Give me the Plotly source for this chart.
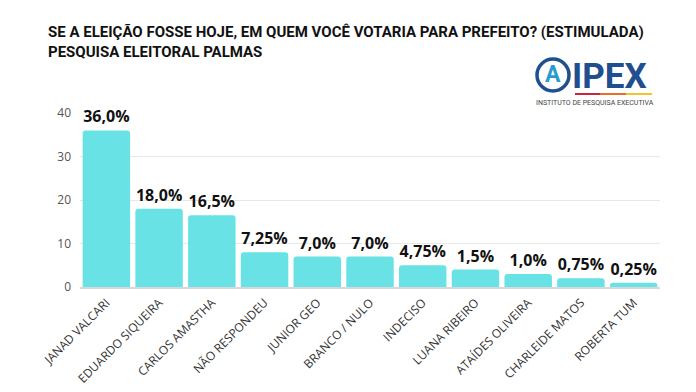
import plotly.graph_objects as go

categories = ["JANAD VALCARI", "EDUARDO SIQUEIRA", "CARLOS AMASTHA", "NÃO RESPONDEU",
              "JUNIOR GEO", "BRANCO / NULO", "INDECISO", "LUANA RIBEIRO",
              "ATAÍDES OLIVEIRA", "CHARLEIDE MATOS", "ROBERTA TUM"]
bar_values = [36, 18, 16.5, 8, 7, 7, 5, 4, 3, 2, 1]
value_labels = ["36,0%", "18,0%", "16,5%", "7,25%", "7,0%", "7,0%", "4,75%",
                "1,5%", "1,0%", "0,75%", "0,25%"]
y_ticks = [0, 10, 20, 30, 40]

title_lines = ["SE A ELEIÇÃO FOSSE HOJE, EM QUEM VOCÊ VOTARIA PARA PREFEITO? (ESTIMULADA)",
               "PESQUISA ELEITORAL PALMAS"]

L, R, T, B = 80, 36, 113, 105
PW, PH = 696 - L - R, 392 - T - B

fig = go.Figure(go.Bar(
    x=categories, y=bar_values, text=value_labels, textposition="outside",
    textfont=dict(family="Open Sans", size=16, color="#111"),
    marker=dict(color="#69e2e6", cornerradius=3, line=dict(width=0)),
    cliponaxis=False, hoverinfo="skip",
))

fig.update_layout(
    width=696, height=392,
    paper_bgcolor="white", plot_bgcolor="white",
    margin=dict(l=L, r=R, t=T, b=B, autoexpand=False),
    bargap=0.1, showlegend=False,
    font=dict(family="Open Sans", color="#333"),
)
fig.update_traces(texttemplate="<b>%{text}</b>")
fig.update_xaxes(tickangle=-45, tickfont=dict(size=12, color="#333"), automargin=False,
                 showline=True, linecolor="#d8d8d8", linewidth=2, ticks="",
                 ticklabelstandoff=2)
fig.update_yaxes(range=[0, 40], tickvals=y_ticks, tickfont=dict(size=12, color="#555"),
                 showgrid=True, gridcolor="#e8e8e8", gridwidth=1, zeroline=False,
                 ticklabelstandoff=8, automargin=False)

def px(xp): return (xp - L) / PW
def py(yp): return (392 - B - yp) / PH

# Title
fig.add_annotation(text="<b>" + title_lines[0] + "<br>" + title_lines[1] + "</b>",
                   xref="paper", yref="paper", x=px(46), y=py(21),
                   xanchor="left", yanchor="top", align="left", showarrow=False,
                   font=dict(family="Roboto", size=15, color="#111"))

# Logo
fig.add_shape(type="circle", xref="paper", yref="paper",
              x0=px(537), x1=px(569), y0=py(91), y1=py(59),
              line=dict(color="#1f4f8f", width=3.5), fillcolor="white")
fig.add_annotation(text="<b>A</b>", xref="paper", yref="paper", x=px(553), y=py(75),
                   xanchor="center", yanchor="middle",
                   showarrow=False, font=dict(family="Roboto", size=23, color="#2a9bd0"))
fig.add_annotation(text="<b>IPEX</b>", xref="paper", yref="paper", x=px(570), y=py(76),
                   xanchor="left", yanchor="middle", showarrow=False,
                   font=dict(family="Roboto", size=35, color="#1f4f8f"))
for x0, x1, c in [(575, 600, "#c8263a"), (600, 626, "#e8702a"), (626, 652, "#f2c530")]:
    fig.add_shape(type="line", xref="paper", yref="paper", x0=px(x0), x1=px(x1),
                  y0=py(94), y1=py(94), line=dict(color=c, width=2))
fig.add_annotation(text="INSTITUTO DE PESQUISA EXECUTIVA", xref="paper", yref="paper",
                   x=px(595), y=py(103), xanchor="center", yanchor="middle", showarrow=False,
                   font=dict(family="Roboto", size=7, color="#444"))

fig.write_html("out.html", config={"displayModeBar": False},
               post_script="document.body.style.margin='0';")
